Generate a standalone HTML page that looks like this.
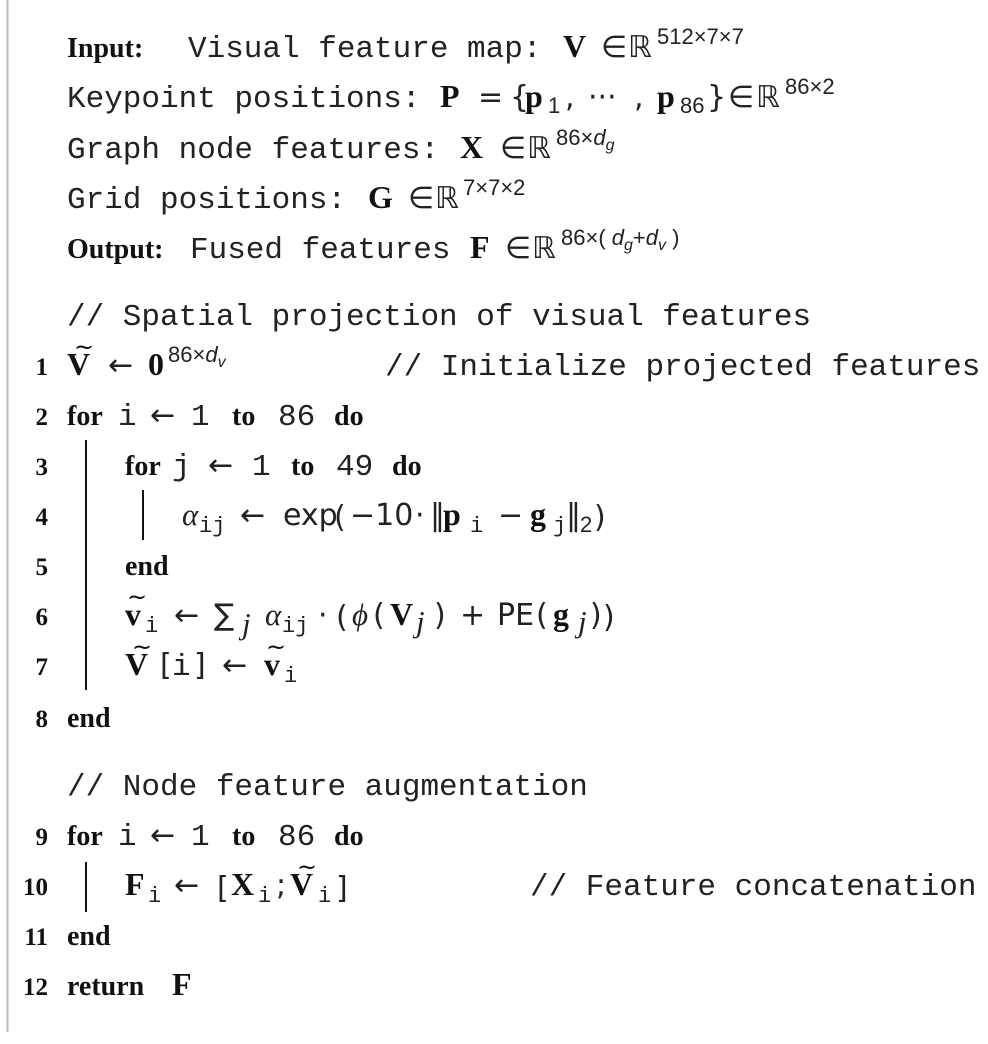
<!DOCTYPE html>
<html><head><meta charset="utf-8"><style>
html,body{margin:0;padding:0;background:#fff;}
svg{display:block}
.m{font-family:"Liberation Mono",monospace;font-size:31px;fill:#222}
.k{font-family:"Liberation Serif",serif;font-weight:bold;font-size:28px;fill:#111}
.n{font-family:"Liberation Serif",serif;font-weight:bold;font-size:25px;fill:#111}
.b{font-family:"Liberation Serif",serif;font-weight:bold;font-size:32px;fill:#111}
.s{font-family:"DejaVu Sans",sans-serif;font-size:30px;fill:#222}
.sup{font-family:"Liberation Sans",sans-serif;font-size:22px;fill:#222}
.sb{font-family:"Liberation Mono",monospace;font-size:22px;fill:#222}
.i{font-family:"Liberation Serif",serif;font-style:italic;font-size:31px;fill:#222}
.tl{font-family:"DejaVu Sans",sans-serif;font-size:24px;fill:#111}
</style></head><body>
<svg width="988" height="1044" xmlns="http://www.w3.org/2000/svg">
<line x1="7.5" y1="0" x2="7.5" y2="1032" stroke="#bbb" stroke-width="2"/>

<text x="67" y="57" class="k">Input:</text>
<text x="188" y="57" class="m">Visual feature map:</text>
<text x="563" y="57" class="b">V</text><text x="601" y="57" class="s">∈</text><text x="628" y="57" class="s">ℝ</text><text x="657" y="44" class="sup">512×7×7</text>

<text x="67" y="107" class="m">Keypoint positions:</text>
<text x="440" y="107" class="b">P</text><text x="478" y="107" class="s">=</text><text x="510" y="107" class="s">{</text><text x="525" y="107" class="b">p</text><text x="548" y="113" class="sup">1</text><text x="565" y="107" class="s">,</text><text x="588" y="107" class="s">···</text><text x="634" y="107" class="s">,</text><text x="657" y="107" class="b">p</text><text x="680" y="113" class="sup">86</text><text x="707" y="107" class="s">}</text><text x="728" y="107" class="s">∈</text><text x="756" y="107" class="s">ℝ</text><text x="785" y="94" class="sup">86×2</text>

<text x="67" y="158" class="m">Graph node features:</text>
<text x="460" y="158" class="b">X</text><text x="500" y="158" class="s">∈</text><text x="527" y="158" class="s">ℝ</text><text x="556" y="145" class="sup">86×<tspan font-style="italic">d</tspan><tspan font-size="16" dy="5" font-style="italic">g</tspan></text>

<text x="67" y="208" class="m">Grid positions:</text>
<text x="368" y="208" class="b">G</text><text x="408" y="208" class="s">∈</text><text x="435" y="208" class="s">ℝ</text><text x="463" y="195" class="sup">7×7×2</text>

<text x="67" y="258" class="k">Output:</text>
<text x="190" y="258" class="m">Fused features</text>
<text x="470" y="258" class="b">F</text><text x="505" y="258" class="s">∈</text><text x="532" y="258" class="s">ℝ</text><text x="561" y="245" class="sup">86×( <tspan font-style="italic">d</tspan><tspan font-size="16" dy="5" font-style="italic">g</tspan><tspan dy="-5">+</tspan><tspan font-style="italic">d</tspan><tspan font-size="16" dy="5" font-style="italic">v</tspan><tspan dy="-5"> )</tspan></text>

<text x="67" y="325" class="m">// Spatial projection of visual features</text>

<!-- line 1 -->
<text x="48" y="375" class="n" text-anchor="end">1</text>
<text x="67" y="375" class="b">V</text><text x="74" y="355" class="tl">~</text>
<text x="108" y="375" class="s">←</text><text x="148" y="375" class="b">0</text><text x="168" y="362" class="sup">86×<tspan font-style="italic">d</tspan><tspan font-size="16" dy="5" font-style="italic">v</tspan></text>
<text x="385" y="375" class="m">// Initialize projected features</text>

<!-- line 2 -->
<text x="48" y="425" class="n" text-anchor="end">2</text>
<text x="67" y="425" class="k">for</text><text x="118" y="425" class="m">i</text><text x="150" y="425" class="s">←</text><text x="191" y="425" class="m">1</text><text x="232" y="425" class="k">to</text><text x="278" y="425" class="m">86</text><text x="334" y="425" class="k">do</text>
<line x1="86" y1="440" x2="86" y2="690" stroke="#111" stroke-width="2"/>

<!-- line 3 -->
<text x="48" y="475" class="n" text-anchor="end">3</text>
<text x="125" y="475" class="k">for</text><text x="172" y="475" class="m">j</text><text x="208" y="475" class="s">←</text><text x="252" y="475" class="m">1</text><text x="291" y="475" class="k">to</text><text x="336" y="475" class="m">49</text><text x="392" y="475" class="k">do</text>
<line x1="143" y1="490" x2="143" y2="540" stroke="#111" stroke-width="2"/>

<!-- line 4 -->
<text x="48" y="525" class="n" text-anchor="end">4</text>
<text x="182" y="525" class="i">α</text><text x="199" y="532" class="sb">ij</text>
<text x="240" y="525" class="s">←</text><text x="283" y="525" class="s">exp</text><text x="334" y="527" class="s" font-size="36">(</text><text x="350" y="525" class="s">−10</text><text x="415" y="525" class="s">·</text><text x="430" y="525" class="s">‖</text><text x="443" y="525" class="b">p</text><text x="470" y="532" class="sb">i</text><text x="498" y="525" class="s">−</text><text x="530" y="525" class="b">g</text><text x="553" y="532" class="sb">j</text><text x="566" y="525" class="s">‖</text><text x="580" y="532" class="sup">2</text><text x="594" y="527" class="s" font-size="36">)</text>

<!-- line 5 -->
<text x="48" y="575" class="n" text-anchor="end">5</text>
<text x="125" y="575" class="k">end</text>

<!-- line 6 -->
<text x="48" y="625" class="n" text-anchor="end">6</text>
<text x="125" y="625" class="b">v</text><text x="127" y="605" class="tl" font-size="22">~</text><text x="145" y="632" class="sb">i</text>
<text x="174" y="625" class="s">←</text><text x="214" y="625" class="s">∑</text><text x="242" y="634" class="i" font-size="20">j</text>
<text x="265" y="625" class="i">α</text><text x="282" y="632" class="sb">ij</text><text x="318" y="625" class="s">·</text>
<text x="336" y="627" class="s" font-size="36">(</text><text x="352" y="625" class="i">ϕ</text><text x="373" y="625" class="s">(</text><text x="390" y="625" class="b">V</text><text x="416" y="632" class="i" font-size="20">j</text><text x="434" y="625" class="s">)</text><text x="460" y="625" class="s">+</text><text x="497" y="625" class="s">PE</text><text x="536" y="625" class="s">(</text><text x="553" y="625" class="b">g</text><text x="578" y="632" class="i" font-size="20">j</text><text x="590" y="625" class="s">)</text><text x="603" y="627" class="s" font-size="36">)</text>

<!-- line 7 -->
<text x="48" y="675" class="n" text-anchor="end">7</text>
<text x="125" y="675" class="b">V</text><text x="132" y="655" class="tl">~</text>
<text x="160" y="675" class="s">[</text><text x="172" y="675" class="m">i</text><text x="194" y="675" class="s">]</text><text x="222" y="675" class="s">←</text>
<text x="264" y="675" class="b">v</text><text x="266" y="655" class="tl" font-size="22">~</text><text x="284" y="682" class="sb">i</text>

<!-- line 8 -->
<text x="48" y="727" class="n" text-anchor="end">8</text>
<text x="67" y="727" class="k">end</text>

<text x="67" y="795" class="m">// Node feature augmentation</text>

<!-- line 9 -->
<text x="48" y="845" class="n" text-anchor="end">9</text>
<text x="67" y="845" class="k">for</text><text x="118" y="845" class="m">i</text><text x="150" y="845" class="s">←</text><text x="191" y="845" class="m">1</text><text x="232" y="845" class="k">to</text><text x="278" y="845" class="m">86</text><text x="334" y="845" class="k">do</text>
<line x1="86" y1="862" x2="86" y2="912" stroke="#111" stroke-width="2"/>

<!-- line 10 -->
<text x="48" y="895" class="n" text-anchor="end">10</text>
<text x="125" y="895" class="b">F</text><text x="148" y="902" class="sb">i</text><text x="174" y="895" class="s">←</text>
<text x="217" y="898" class="s" font-size="36">[</text><text x="231" y="895" class="b">X</text><text x="258" y="902" class="sb">i</text><text x="276" y="895" class="s">;</text>
<text x="290" y="895" class="b">V</text><text x="297" y="875" class="tl">~</text><text x="318" y="902" class="sb">i</text><text x="336" y="898" class="s" font-size="36">]</text>
<text x="530" y="895" class="m">// Feature concatenation</text>

<!-- line 11 -->
<text x="48" y="945" class="n" text-anchor="end">11</text>
<text x="67" y="945" class="k">end</text>

<!-- line 12 -->
<text x="48" y="995" class="n" text-anchor="end">12</text>
<text x="67" y="995" class="k">return</text><text x="172" y="995" class="b">F</text>
</svg>
</body></html>
